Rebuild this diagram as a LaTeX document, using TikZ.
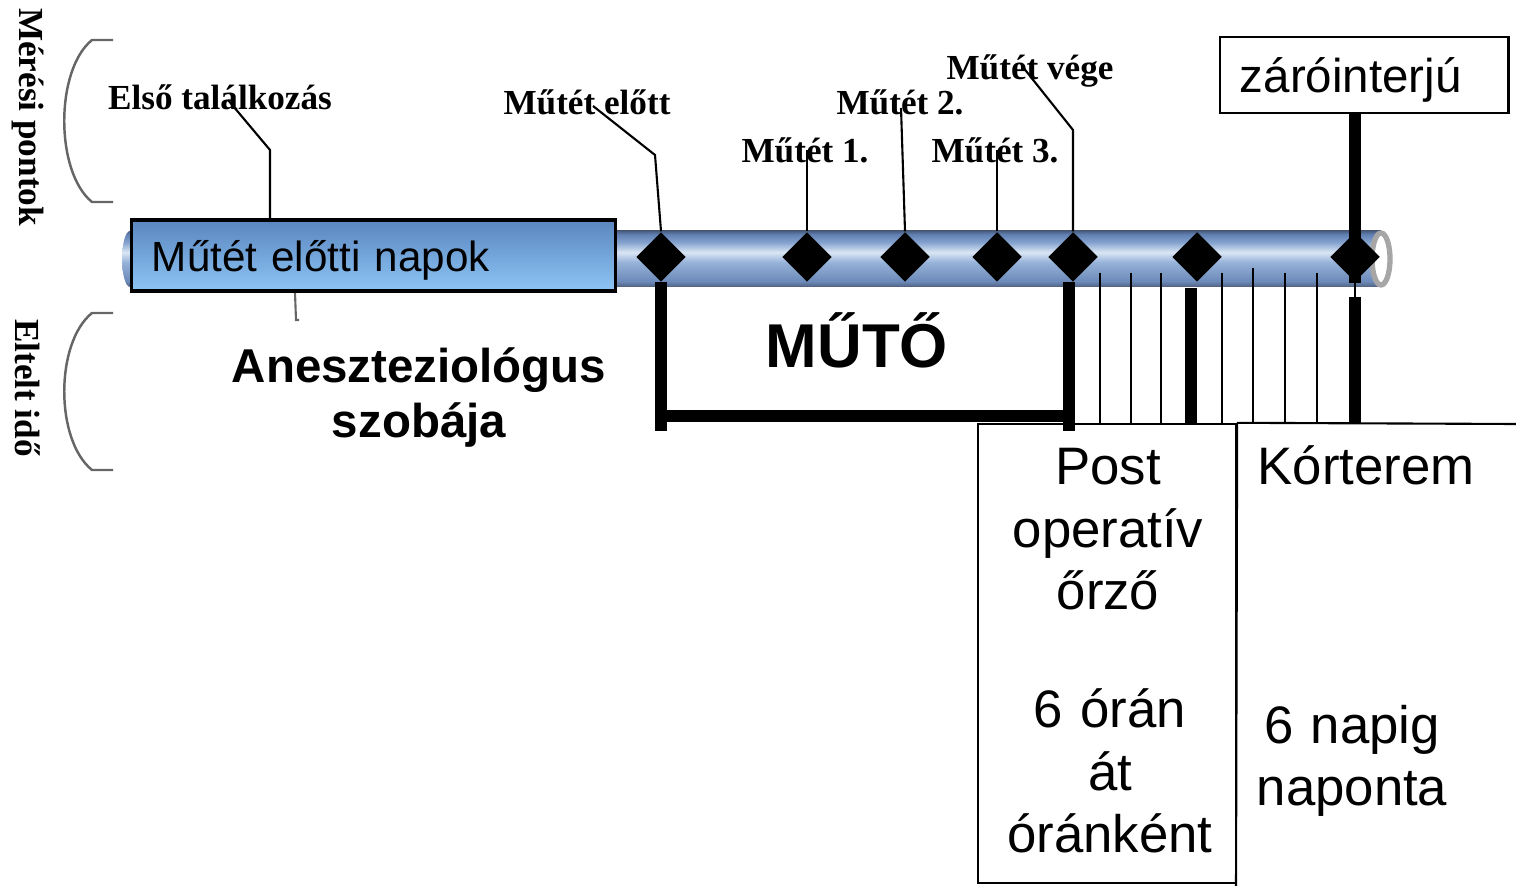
\documentclass[tikz,border=0pt]{standalone}
\usepackage{fontspec}
\setmainfont{Liberation Sans}
\newfontfamily\serifbold{Liberation Serif}
\usetikzlibrary{positioning,shapes.geometric}
\tikzset{>=stealth}

\definecolor{boxtop}{RGB}{90,134,190}
\definecolor{boxbot}{RGB}{141,197,246}
\definecolor{tubeA}{RGB}{80,96,124}
\definecolor{tubeB}{RGB}{108,138,186}
\definecolor{tubeC}{RGB}{150,178,216}
\definecolor{tubeD}{RGB}{218,230,244}
\definecolor{tubeE}{RGB}{132,162,206}
\definecolor{tubeF}{RGB}{96,128,178}
\definecolor{tubeG}{RGB}{74,94,128}
\pgfdeclareverticalshading{tube}{100bp}{color(0bp)=(tubeA); color(25bp)=(tubeA); color(30bp)=(tubeB); color(47bp)=(tubeC); color(56bp)=(tubeD); color(65bp)=(tubeE); color(72bp)=(tubeF); color(75bp)=(tubeG); color(100bp)=(tubeG)}

\tikzset{
  point/.style={diamond,fill=black,inner sep=0pt,minimum width=0.5cm,minimum height=0.5cm},
  lbl/.style={font=\serifbold\bfseries\fontsize{10}{12}\selectfont,inner sep=0pt},
  lead/.style={line width=0.6pt},
  bar/.style={line width=3.2pt},
  tick/.style={line width=0.6pt},
  brace/.style={draw=black!60,line width=0.7pt},
  prebox/.style={draw=black,line width=0.9pt,top color=boxtop,bottom color=boxbot,
    minimum width=4.83cm,minimum height=0.71cm,text width=4.43cm,inner xsep=0.2cm,
    text depth=0pt,align=left,font=\fontsize{12}{14}\selectfont},
  zbox/.style={draw=black,line width=0.8pt,fill=white,minimum width=2.88cm,minimum height=0.76cm,
    text width=2.48cm,inner xsep=0.2cm,text depth=0pt,align=left,font=\fontsize{13.5}{16}\selectfont},
  room/.style={font=\bfseries\fontsize{13.5}{15.6}\selectfont,align=center,text width=4cm},
  ward/.style={font=\fontsize{15}{17.7}\selectfont,align=center,text width=2.4cm}
}

\begin{document}
\begin{tikzpicture}[x=0.01cm,y=-0.01cm]
\useasboundingbox (0,0) rectangle (1516,886);

% side captions
\node[lbl,rotate=-90] (meres) at (28,117) {Mérési pontok};
\node[lbl,rotate=-90] (eltelt) at (28,388) {Eltelt idő};
\draw[brace] (113,40) -- (92,40) .. controls (55,70) and (55,172) .. (92,202) -- (113,202);
\draw[brace] (113,313) -- (92,313) .. controls (55,343) and (55,440) .. (92,470) -- (113,470);

% tube
\shade[shading=tube] (130,259) ellipse [x radius=8,y radius=28];
\shade[shading=tube] (130,231) rectangle (1381,287);
\filldraw[fill=white,draw=black!35,line width=1.5pt] (1381,259) ellipse [x radius=9,y radius=26];

\node[prebox] (napok) at (373.5,255.5) {Műtét előtti napok};
\draw[lead,black!60] (295,293) -- (296,320) -- (299,320);

\foreach \x/\n in {661/d1,807/d2,905/d3,997/d4,1073/d5,1197/d6,1355/d7}
  \node[point] (\n) at (\x,257) {};

% measuring points
\node[lbl,anchor=base] (elso) at (220,110) {Első találkozás};
\node[lbl,anchor=base] (elott) at (587,115) {Műtét előtt};
\node[lbl,anchor=base] (m1) at (805,163) {Műtét 1.};
\node[lbl,anchor=base] (m2) at (900,115) {Műtét 2.};
\node[lbl,anchor=base] (m3) at (995,163) {Műtét 3.};
\node[lbl,anchor=base] (vege) at (1030,80) {Műtét vége};

\coordinate (s1) at (228,100);
\coordinate (k1) at (270,150);
\coordinate (s2) at (593,106);
\coordinate (k2) at (655,155);
\coordinate (s3) at (807,150);
\coordinate (s4) at (901,108);
\coordinate (s5) at (997,150);
\coordinate (s6) at (1022,66);
\coordinate (k6) at (1073,130);
\draw[lead] (s1) -- (k1) -- (k1 |- napok.north);
\draw[lead] (s2) -- (k2) -- (d1.north);
\draw[lead] (s3) -- (d2.north);
\draw[lead] (s4) -- (d3.north);
\draw[lead] (s5) -- (d4.north);
\draw[lead] (s6) -- (k6) -- (d5.north);

\node[zbox] (zaro) at (1364,75) {záróinterjú};
\draw[bar] (d7 |- zaro.south) -- (d7.south);

% elapsed time
\node[draw,line width=0.6pt,minimum width=2.58cm,minimum height=4.59cm] (postbox) at (1107,653.5) {};
\draw[lead] (postbox.north east) -- (1516,424);
\draw[lead] (postbox.north east) -- (1236,886);

\coordinate (ml) at (661,282);
\coordinate (mr) at (1069,282);
\draw[bar] (ml) -- ++(0,149) (mr) -- ++(0,149);
\draw[bar] (ml) ++(0,134) coordinate (mb) -- (mb -| mr);

\foreach \x in {1100,1131,1161,1222,1285,1317}
  \draw[tick] (\x,273) -- (\x,0 |- postbox.north);
\draw[tick] (1253,268) -- (1253,0 |- postbox.north);
\coordinate (b6) at (1191,288);
\draw[bar] (b6) -- (b6 |- postbox.north);
\draw[lead] (d7.south) -- ++(0,14) coordinate (b7);
\draw[bar] (b7) -- (b7 |- postbox.north);

\node[font=\bfseries\fontsize{17.6}{20}\selectfont,anchor=base] (muto) at (857,368) {MŰTŐ};
\node[room,anchor=base] (anesz) at (419,383) {Aneszteziológus\\szobája};
\node[ward,anchor=base] (post) at (1108,485) {Post\\operatív\\őrző};
\node[ward,anchor=base] (orankent) at (1110,728) {6 órán\\át\\óránként};
\node[font=\fontsize{15}{17.7}\selectfont,anchor=base west,inner sep=0pt] (korterem) at (1257,485) {Kórterem};
\node[ward,anchor=base] (napig) at (1352,743) {6 napig\\naponta};
\end{tikzpicture}
\end{document}
